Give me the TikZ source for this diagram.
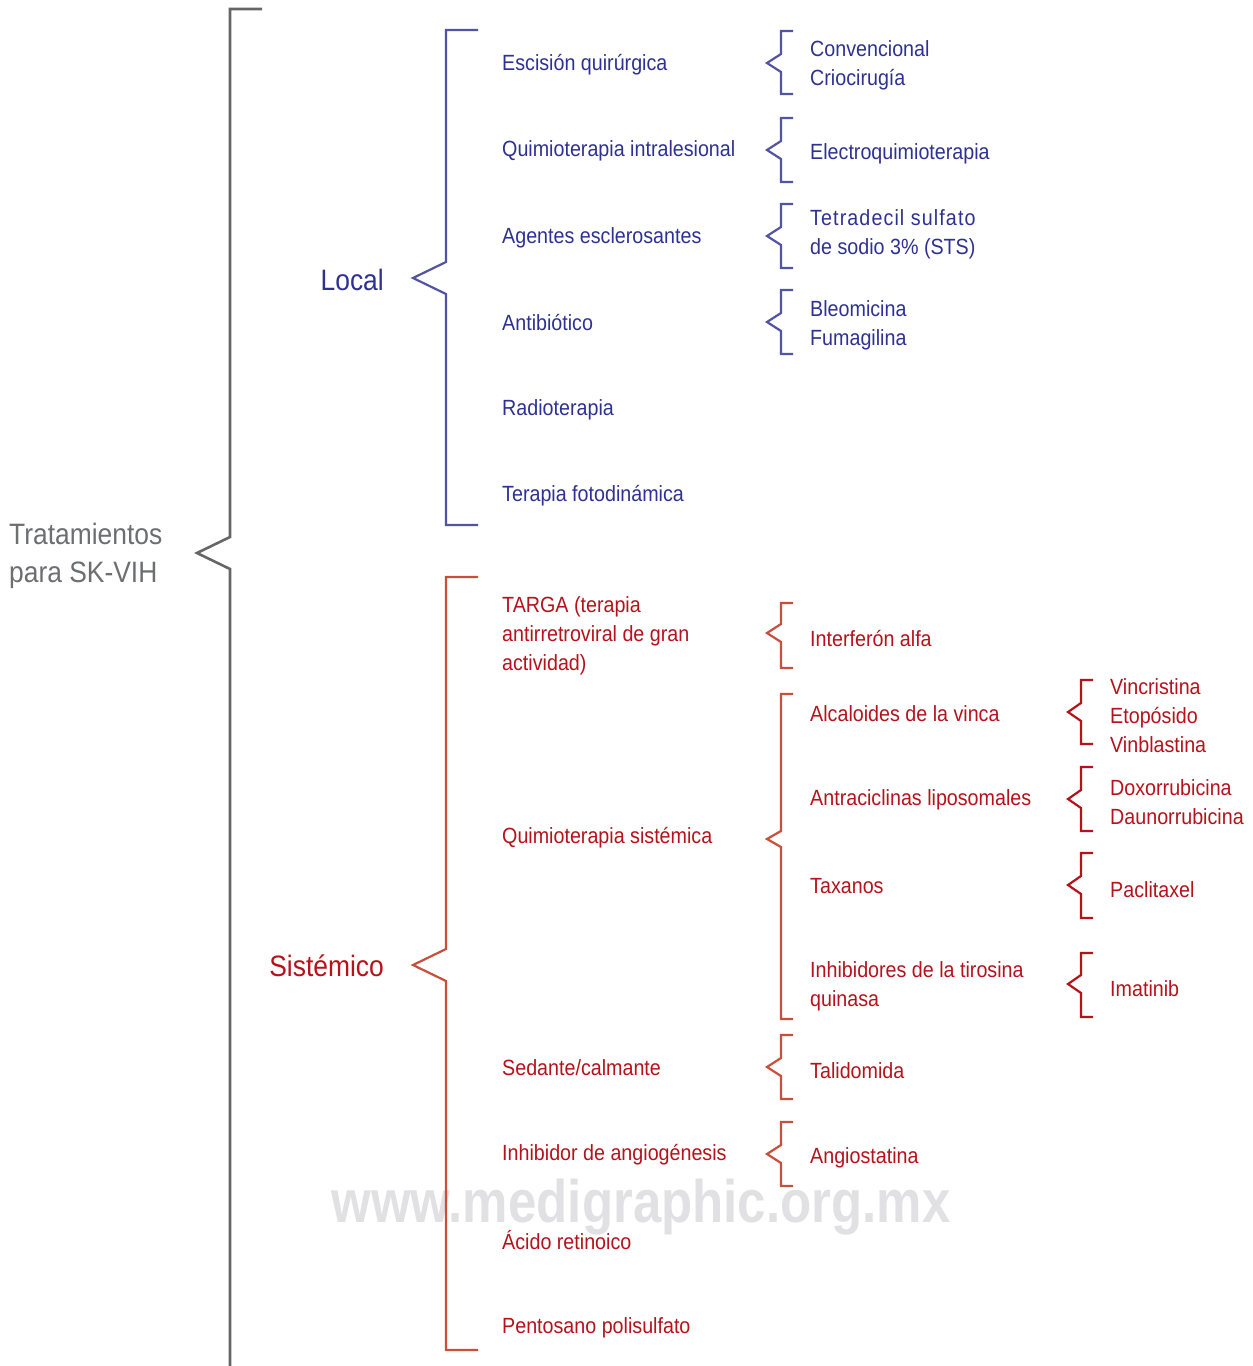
\documentclass[tikz,border=0pt]{standalone}
\usepackage{fontspec}
\setmainfont{Liberation Sans}[FakeStretch=0.895]
\newfontfamily\wmfont{Liberation Sans}[FakeStretch=0.85]
\definecolor{grayline}{HTML}{666666}
\definecolor{graytext}{HTML}{6D6E70}
\definecolor{blueline}{HTML}{5353A3}
\definecolor{bluetext}{HTML}{2E3192}
\definecolor{redline}{HTML}{C8503A}
\definecolor{redtext}{HTML}{B5121B}
\definecolor{wmgray}{HTML}{E1E1E3}
\begin{document}
\begin{tikzpicture}[x=1pt,y=-1pt,
  lbl/.style={anchor=west,inner sep=0pt,align=left,yshift=-2.5pt,font=\fontsize{22}{28.8}\selectfont},
  big/.style={inner sep=0pt,align=left,font=\fontsize{29.5}{38}\selectfont},
  bl/.style={lbl,text=bluetext},
  rd/.style={lbl,text=redtext},
  gline/.style={draw=grayline,line width=2.6pt,line join=miter},
  bline/.style={draw=blueline,line width=2.2pt,line join=miter},
  rline/.style={draw=redline,line width=2.2pt,line join=miter},
  cline/.style={draw=redtext,line width=2.2pt,line join=miter}]
\useasboundingbox (0,0) rectangle (1253,1366);
% watermark
\node[inner sep=0pt,text=wmgray,font=\wmfont\bfseries\fontsize{60}{60}\selectfont] (wm) at (641,1207) {www.medigraphic.org.mx};
% main brace
\draw[gline] (262,9) -- (230,9) -- (230,537) -- (197,553) -- (230,569) -- (230,1380);
\node[big,text=graytext,anchor=west] (root) at (9,556) {Tratamientos\\para SK-VIH};
% Local
\draw[bline] (478,30) -- (446,30) -- (446,262) -- (413,278) -- (446,294) -- (446,525) -- (478,525);
\node[big,text=bluetext,anchor=east] (local) at (384,280) {Local};
% Sistemico
\draw[rline] (478,577) -- (446,577) -- (446,949) -- (413,965) -- (446,981) -- (446,1350) -- (478,1350);
\node[big,text=redtext,anchor=east] (sist) at (384,966) {Sistémico};
% level 2 local
\node[bl] (esc) at (502,62) {Escisión quirúrgica};
\node[bl] (qil) at (502,148) {Quimioterapia intralesional};
\node[bl] (age) at (502,235) {Agentes esclerosantes};
\node[bl] (ant) at (502,320) {Antibiótico};
\node[bl] (rad) at (502,407) {Radioterapia};
\node[bl] (tfd) at (502,493) {Terapia fotodinámica};
% level 2 sistemico
\node[rd] (targa) at (502,633) {TARGA (terapia\\antirretroviral de gran\\actividad)};
\node[rd] (qs) at (502,835) {Quimioterapia sistémica};
\node[rd] (sed) at (502,1065) {Sedante/calmante};
\node[rd] (ia) at (502,1152) {Inhibidor de angiogénesis};
\node[rd] (ar) at (502,1238) {Ácido retinoico};
\node[rd] (pp) at (502,1325) {Pentosano polisulfato};
% level 3 brackets local
\draw[bline] (793,31) -- (781,31) -- (781,54) -- (767,63) -- (781,72) -- (781,94) -- (793,94);
\draw[bline] (793,118) -- (781,118) -- (781,141) -- (767,150) -- (781,159) -- (781,182) -- (793,182);
\draw[bline] (793,204) -- (781,204) -- (781,227) -- (767,236) -- (781,245) -- (781,268) -- (793,268);
\draw[bline] (793,290) -- (781,290) -- (781,313) -- (767,322) -- (781,331) -- (781,354) -- (793,354);
\node[bl] (conv) at (810,63) {Convencional\\Criocirugía};
\node[bl] (eqt) at (810,151) {Electroquimioterapia};
\node[bl] (tds) at (810,232) {\addfontfeatures{LetterSpace=5}Tetradecil sulfato\\de sodio 3\% (STS)};
\node[bl] (bleo) at (810,323) {Bleomicina\\Fumagilina};
% level 3 brackets sistemico
\draw[rline] (793,603) -- (781,603) -- (781,624) -- (767,633) -- (781,642) -- (781,668) -- (793,668);
\draw[rline] (793,694) -- (781,694) -- (781,831) -- (767,839) -- (781,847) -- (781,1019) -- (793,1019);
\draw[rline] (793,1035) -- (781,1035) -- (781,1058) -- (767,1067) -- (781,1076) -- (781,1099) -- (793,1099);
\draw[rline] (793,1122) -- (781,1122) -- (781,1145) -- (767,1154) -- (781,1163) -- (781,1186) -- (793,1186);
\node[rd] (ifn) at (810,636) {Interferón alfa};
\node[rd] (alc) at (810,711) {Alcaloides de la vinca};
\node[rd] (antr) at (810,797) {Antraciclinas liposomales};
\node[rd] (tax) at (810,884) {Taxanos};
\node[rd] (itq) at (810,984) {Inhibidores de la tirosina\\quinasa};
\node[rd] (tal) at (810,1068) {Talidomida};
\node[rd] (angs) at (810,1155) {Angiostatina};
% level 4 brackets
\draw[cline] (1093,680) -- (1081,680) -- (1081,703) -- (1068,712) -- (1081,721) -- (1081,744) -- (1093,744);
\draw[cline] (1093,767) -- (1081,767) -- (1081,790) -- (1068,799) -- (1081,808) -- (1081,831) -- (1093,831);
\draw[cline] (1093,853) -- (1081,853) -- (1081,876) -- (1068,885) -- (1081,894) -- (1081,918) -- (1093,918);
\draw[cline] (1093,953) -- (1081,953) -- (1081,975) -- (1068,984) -- (1081,993) -- (1081,1017) -- (1093,1017);
\node[rd] (vinc) at (1110,713) {Vincristina\\Etopósido\\Vinblastina};
\node[rd] (doxo) at (1110,800) {Doxorrubicina\\Daunorrubicina};
\node[rd] (pacl) at (1110,887) {Paclitaxel};
\node[rd] (imat) at (1110,986) {Imatinib};
\end{tikzpicture}
\end{document}
